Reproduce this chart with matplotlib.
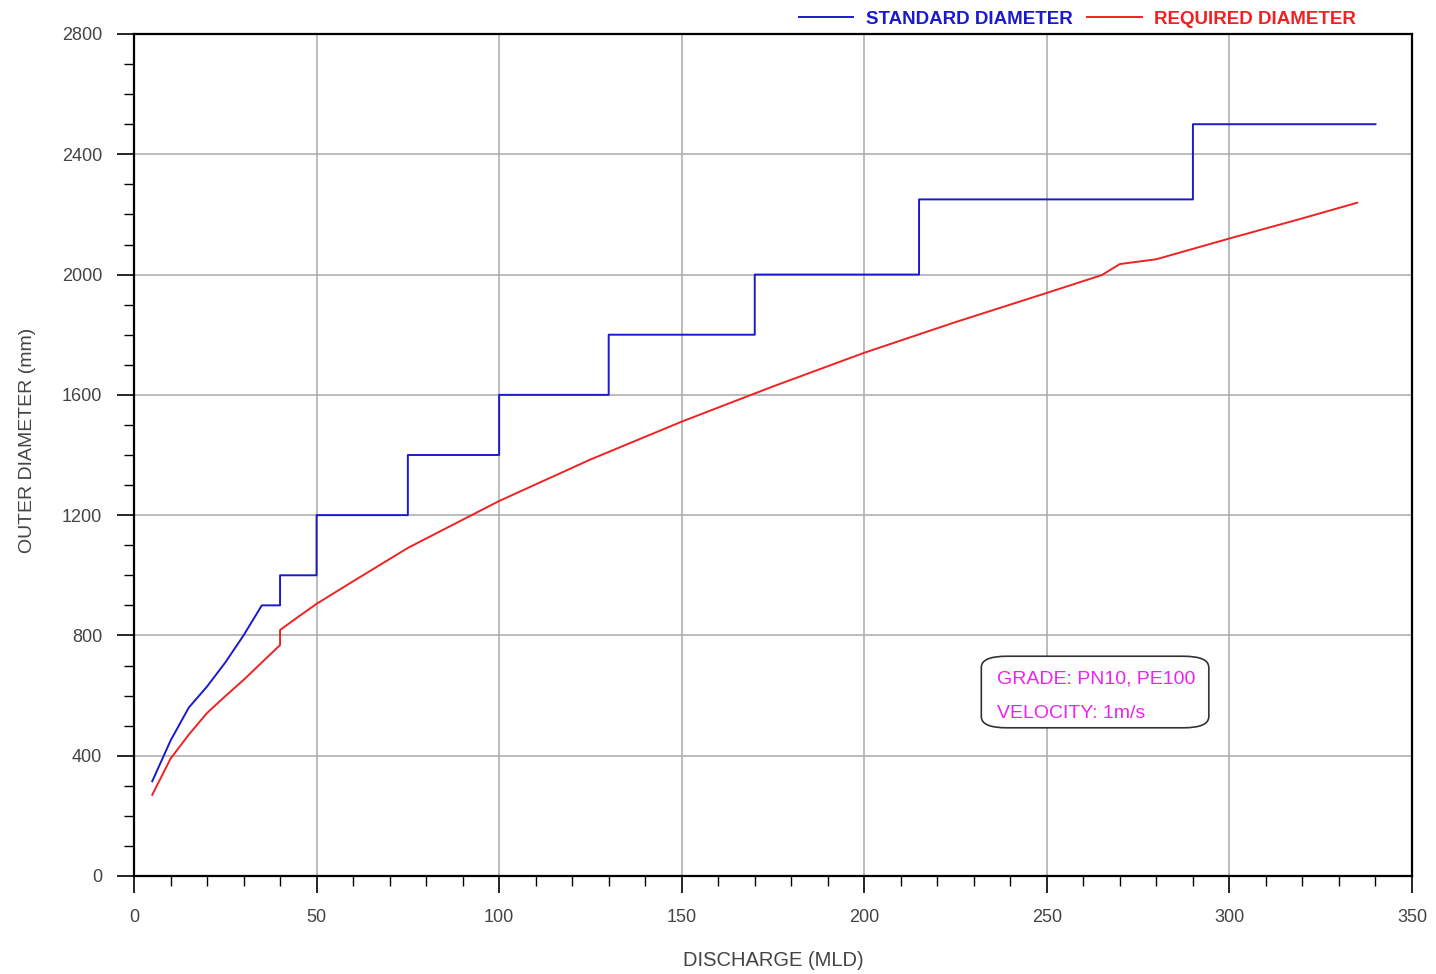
import matplotlib
matplotlib.use("Agg")
import matplotlib.pyplot as plt
from matplotlib.patches import FancyBboxPatch
from matplotlib.ticker import MultipleLocator

plt.rcParams['font.family'] = ['Liberation Sans', 'DejaVu Sans']

# Standard diameter (step line vertices)
std_x = [5, 10, 15, 20, 25, 30, 35, 40, 40, 50, 50, 75, 75, 100, 100, 130, 130,
         170, 170, 215, 215, 290, 290, 340]
std_d = [315, 450, 560, 630, 710, 800, 900, 900, 1000, 1000, 1200, 1200, 1400, 1400,
         1600, 1600, 1800, 1800, 2000, 2000, 2250, 2250, 2500, 2500]

# Required diameter
req_x = [5, 10, 15, 20, 25, 30, 35, 40, 40, 45, 50, 60, 75, 100, 125, 150, 175,
         200, 225, 250, 265, 270, 280, 300, 320, 335]
req_d = [270, 390, 470, 542, 598, 652, 710, 768, 818, 862, 905, 980, 1091, 1247,
         1385, 1511, 1628, 1740, 1842, 1939, 1998, 2035, 2051, 2120, 2187, 2239]

x_ticks = [0, 50, 100, 150, 200, 250, 300, 350]
y_ticks = [0, 400, 800, 1200, 1600, 2000, 2400, 2800]

fig = plt.figure(figsize=(14.36, 9.74), dpi=100)
ax = fig.add_axes([134/1436, 1 - 876/974, (1412-134)/1436, (876-34)/974])

ax.plot(std_x, std_d, color='#1a1acc', lw=1.4, label='STANDARD DIAMETER')
ax.plot(req_x, req_d, color='#ee2222', lw=1.4, label='REQUIRED DIAMETER')

ax.set_xlim(0, 350)
ax.set_ylim(0, 2800)
ax.set_xticks(x_ticks)
ax.set_yticks(y_ticks)
ax.xaxis.set_minor_locator(MultipleLocator(10))
ax.yaxis.set_minor_locator(MultipleLocator(100))
ax.grid(True, which='major', color='#aaaaaa', lw=1.1)
ax.set_axisbelow(True)
for s in ax.spines.values():
    s.set_linewidth(1.6)
    s.set_color('black')
ax.tick_params(which='major', direction='out', length=12, width=1.2,
               labelsize=13, labelcolor='#444444')
ax.tick_params(axis='y', which='major', pad=11)
ax.tick_params(axis='x', which='major', pad=12)
ax.tick_params(which='minor', direction='out', length=7, width=1.0)

ax.set_xlabel('DISCHARGE (MLD)', fontsize=14.5, color='#444444', labelpad=18)
ax.set_ylabel('OUTER DIAMETER (mm)', fontsize=14, color='#444444', labelpad=20)
ax.yaxis.set_label_coords(-0.077, 0.517)

leg = ax.legend(loc='lower right', bbox_to_anchor=(0.959, 1.003), ncol=2, frameon=False,
                fontsize=13.5, labelcolor='linecolor', handlelength=2.9,
                columnspacing=0.8, handletextpad=0.65, borderaxespad=0.0,
                borderpad=0.2)
for t in leg.get_texts():
    t.set_fontweight('bold')

# Annotation box
box = FancyBboxPatch((0.663, 0.176), 0.841 - 0.663, 0.261 - 0.176,
                     boxstyle='round,pad=0,rounding_size=0.02',
                     transform=ax.transAxes, facecolor='white', edgecolor='#333333',
                     lw=1.2, zorder=5, mutation_aspect=842/1277)
ax.add_patch(box)
ax.text(0.675, 0.2345, 'GRADE: PN10, PE100', transform=ax.transAxes, color='#ee22ee',
        fontsize=14, va='center', ha='left', zorder=6)
ax.text(0.675, 0.193, 'VELOCITY: 1m/s', transform=ax.transAxes, color='#ee22ee',
        fontsize=14, va='center', ha='left', zorder=6)

fig.savefig('out.png', dpi=100)
